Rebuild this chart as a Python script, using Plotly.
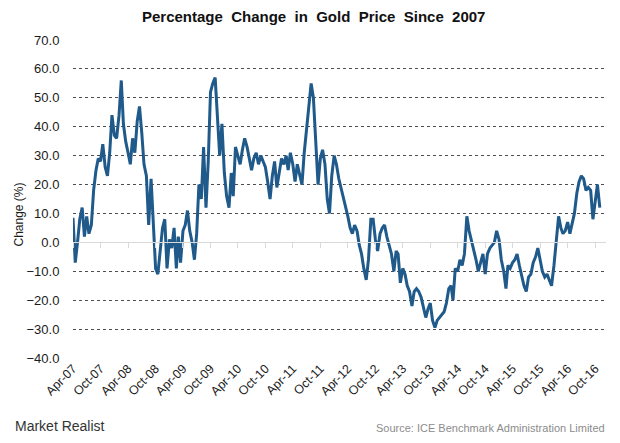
import plotly.graph_objects as go
import pandas as pd
from datetime import datetime

# Year-over-year % change in gold price, semi-monthly readings (1st and 16th), from Apr-2007
values = [
    8.5, -7, 0, 8, 12, 2, 9, 3, 6, 18, 25, 29, 28, 34, 26, 23, 31, 44, 37, 36, 44, 56, 41, 35,
    31, 27, 36, 31, 42, 47, 38, 27, 23, 6, 22, 4, -9, -11, -2, 5, 8, -9, 1, -2, 5, -9, 2, -7,
    4, 6, 11, 4, 0, -6, 3, 20, 15, 33, 12, 28, 52, 55, 57, 43, 30, 41, 24, 16, 12, 24, 16, 33,
    30, 27, 32, 36, 33, 29, 25, 29, 31, 27, 30, 28, 26, 21, 15, 23, 28, 19, 25, 29, 27, 30, 25, 31,
    27, 21, 27, 24, 20, 31, 39, 47, 55, 50, 33, 20, 29, 32, 27, 15, 10, 23, 30, 27, 22, 19, 16, 13,
    9, 5, 3, 6, 4, -1, -4, -9, -13, -6, 8, 8, 1, -3, 3, 5, 6, 2, -1, -4, -10, -3, -4, -14,
    -9, -11, -15, -17, -22, -17, -16, -17, -19, -23, -26, -23, -21, -27, -29.5, -27, -26, -25, -24, -21, -16, -15, -20, -9,
    -10, -6, -8, -4, 9, 4, 1, -3, -6, -10, -7, -4, -11, -4, -2, -1, 0, 4, 1, -6, -10, -16, -8, -9,
    -7, -6, -4, -8, -12, -15, -17, -12, -11, -7, -5, -2, -6, -10, -12, -11, -13, -15, -8, 1, 9, 5, 3, 4,
    7, 3, 7, 10, 17, 21, 23, 22, 18, 19, 18, 8, 14, 20, 12,
]

tick_labels = ["Apr-07", "Oct-07", "Apr-08", "Oct-08", "Apr-09", "Oct-09", "Apr-10", "Oct-10",
               "Apr-11", "Oct-11", "Apr-12", "Oct-12", "Apr-13", "Oct-13", "Apr-14", "Oct-14",
               "Apr-15", "Oct-15", "Apr-16", "Oct-16"]
y_ticks = [70, 60, 50, 40, 30, 20, 10, 0, -10, -20, -30, -40]

start = pd.Timestamp(2007, 4, 1)
dates = [start + pd.DateOffset(months=i // 2) + pd.Timedelta(days=15 * (i % 2)) for i in range(len(values))]
tick_vals = [datetime.strptime(t, "%b-%y") for t in tick_labels]

x_range = ["2007-04-01", "2016-12-12"]
FONT = "Liberation Sans, Arial, sans-serif"

fig = go.Figure()
fig.add_trace(go.Scatter(x=dates, y=values, mode="lines", xaxis="x2",
                         line=dict(color="#1f5a8b", width=3), hoverinfo="skip", showlegend=False))
fig.add_trace(go.Scatter(x=dates, y=values, mode="lines", xaxis="x", opacity=0,
                         line=dict(width=0), hoverinfo="skip", showlegend=False))

zero_pos = (0 - (-40)) / (70 - (-40))

fig.update_layout(
    width=620, height=443,
    margin=dict(l=73, r=14, t=40, b=85),
    paper_bgcolor="white", plot_bgcolor="white",
    font=dict(family=FONT, color="#222222"),
    title=dict(text="<b>Percentage  Change  in  Gold  Price  Since  2007</b>",
               x=0.506, xanchor="center", y=0.962, yanchor="middle",
               font=dict(size=15, family=FONT, color="#111111")),
    xaxis=dict(type="date", range=x_range, anchor="free", position=zero_pos,
               showline=True, linecolor="#d9d9d9", linewidth=1,
               ticks="outside", ticklen=5, tickcolor="#d9d9d9", tickvals=tick_vals,
               showticklabels=False, showgrid=False, zeroline=False),
    xaxis2=dict(type="date", range=x_range, overlaying="x", anchor="y", side="bottom",
                tickvals=tick_vals, ticktext=tick_labels, tickangle=-45,
                tickfont=dict(size=12.5, family=FONT, color="#1a1a1a"),
                showline=False, ticks="", showgrid=False, zeroline=False),
    yaxis=dict(range=[-40, 70], tickvals=y_ticks, tickformat=".1f",
               tickfont=dict(size=13, family=FONT, color="#1a1a1a"),
               ticks="outside", ticklen=10, tickcolor="rgba(0,0,0,0)",
               showgrid=True, gridcolor="#4d4d4d", gridwidth=1, griddash="dot",
               zeroline=True, zerolinecolor="#d9d9d9", zerolinewidth=1, showline=False),
    annotations=[
        dict(text="Change (%)", textangle=-90, xref="paper", yref="paper",
             x=-0.102, y=0.45, xanchor="center", yanchor="middle", showarrow=False,
             font=dict(size=12, family=FONT, color="#1a1a1a")),
        dict(text="Market Realist", xref="paper", yref="paper",
             x=-0.112, y=-0.215, xanchor="left", yanchor="middle", showarrow=False,
             font=dict(size=14, family="Liberation Sans Narrow, Liberation Sans, Arial", color="#333333")),
        dict(text="Source: ICE Benchmark Administration Limited", xref="paper", yref="paper",
             x=1.002, y=-0.221, xanchor="right", yanchor="middle", showarrow=False,
             font=dict(size=11, family=FONT, color="#8c8c8c")),
    ],
)

fig.write_html("out.html", config={"displayModeBar": False},
               post_script="document.body.style.margin='0';")
